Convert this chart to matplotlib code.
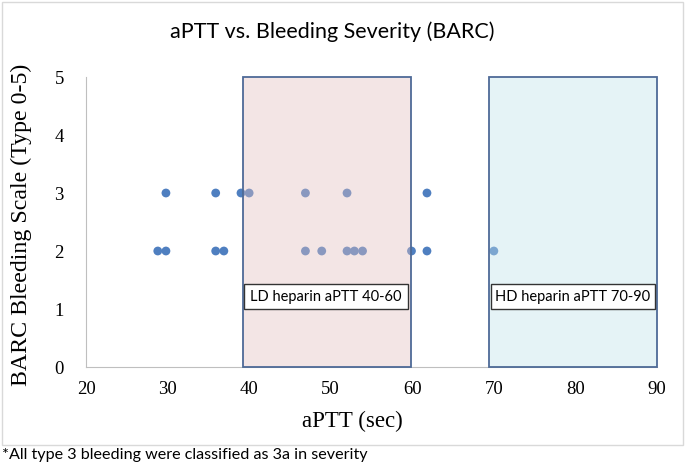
import matplotlib
matplotlib.use("Agg")
import matplotlib.pyplot as plt
from matplotlib.patches import Rectangle

# Data
row3_aptt = [29.8, 35.9, 39.0, 40.0, 46.9, 52.0, 61.8]
row2_aptt = [28.8, 29.8, 35.9, 36.9, 46.9, 48.9, 52.0, 52.9, 53.9, 59.9, 61.8, 70.0]
barc3 = [3] * len(row3_aptt)
barc2 = [2] * len(row2_aptt)
x_ticks = [20, 30, 40, 50, 60, 70, 80, 90]
y_ticks = [0, 1, 2, 3, 4, 5]
ld_label = "LD heparin aPTT 40-60"
hd_label = "HD heparin aPTT 70-90"

fig = plt.figure(figsize=(6.85, 4.65), dpi=100)
ax = fig.add_axes([86/685, 1-367/465, (657-86)/685, (367-77)/465])

dot_color = "#4F7FC0"
ax.scatter(row3_aptt + row2_aptt, barc3 + barc2, s=40, color=dot_color,
           edgecolors="none", zorder=2)

edge = "#4E6A97"
# shaded ranges (semi-transparent over dots)
ld0, ld1 = 39.3, 59.8
hd0, hd1 = 69.4, 90.0
ax.add_patch(Rectangle((ld0, 0), ld1-ld0, 5, facecolor=(225/255, 190/255, 190/255, 0.4),
                       edgecolor="none", zorder=3, clip_on=False))
ax.add_patch(Rectangle((ld0, 0), ld1-ld0, 5, facecolor="none",
                       edgecolor=edge, lw=1.3, zorder=4, clip_on=False))
ax.add_patch(Rectangle((hd0, 0), hd1-hd0, 5, facecolor=(192/255, 225/255, 233/255, 0.4),
                       edgecolor="none", zorder=3, clip_on=False))
ax.add_patch(Rectangle((hd0, 0), hd1-hd0, 5, facecolor="none",
                       edgecolor=edge, lw=1.3, zorder=4, clip_on=False))

# label boxes
ax.add_patch(Rectangle((39.4, 1.0), 59.5-39.4, 0.43, facecolor="white",
                       edgecolor="#333333", lw=1.0, zorder=5))
ax.text((39.4+59.5)/2, 1.215, ld_label, ha="center", va="center", fontsize=10.5,
        family="Lato", zorder=6, color="black")
ax.add_patch(Rectangle((69.6, 1.0), 89.8-69.6, 0.43, facecolor="white",
                       edgecolor="#333333", lw=1.0, zorder=5, clip_on=False))
ax.text((69.6+89.8)/2, 1.215, hd_label, ha="center", va="center", fontsize=10.5,
        family="Lato", zorder=6, color="black")

ax.set_xlim(20, 90)
ax.set_ylim(0, 5)
ax.set_xticks(x_ticks)
ax.set_yticks(y_ticks)
for lab in ax.get_xticklabels() + ax.get_yticklabels():
    lab.set_family("Liberation Serif")
    lab.set_fontsize(13.5)
ax.tick_params(axis="both", length=0)
ax.tick_params(axis="x", pad=10)
ax.tick_params(axis="y", pad=16)
for s in ["top", "right"]:
    ax.spines[s].set_visible(False)
for s in ["left", "bottom"]:
    ax.spines[s].set_color("#BFBFBF")
    ax.spines[s].set_linewidth(0.8)

ax.set_xlabel("aPTT (sec)", family="Liberation Serif", fontsize=16.5)
ax.xaxis.set_label_coords((352-86)/571, -(421-367)/290)
ax.xaxis.label.set_va("center")
ax.set_ylabel("BARC Bleeding Scale (Type 0-5)", family="Liberation Serif", fontsize=17.2)
ax.yaxis.set_label_coords(-(86-21)/571, (367-225)/290)
ax.yaxis.label.set_va("center")

fig.text(332/685, 1-32/465, "aPTT vs. Bleeding Severity (BARC)", ha="center", va="center",
         family="Lato", fontsize=15.5)

# outer chart border
fig.add_artist(Rectangle((2/685, 1-445/465), 681/685, 443/465, transform=fig.transFigure,
                         facecolor="none", edgecolor="#D9D9D9", lw=1.0))

fig.text(2/685, 1-455/465, "*All type 3 bleeding were classified as 3a in severity",
         ha="left", va="center", family="Lato", fontsize=11.6)

fig.savefig("out.png", dpi=100)
